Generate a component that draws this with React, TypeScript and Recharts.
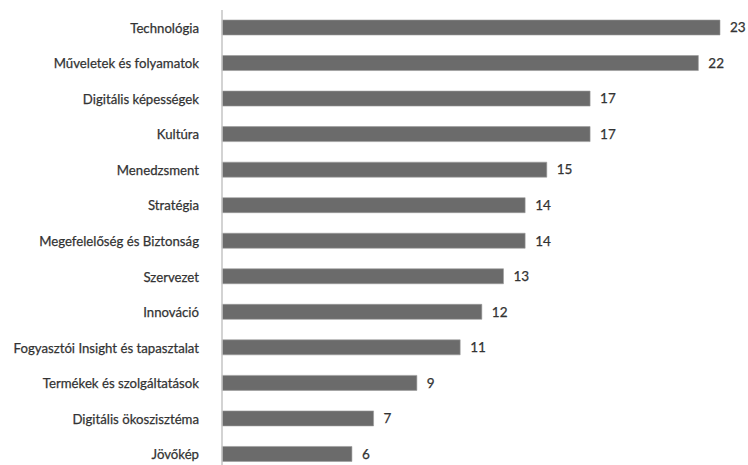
import React from "react";
import { BarChart, Bar, XAxis, YAxis, LabelList } from "recharts";

const categories = [
  "Technológia",
  "Műveletek és folyamatok",
  "Digitális képességek",
  "Kultúra",
  "Menedzsment",
  "Stratégia",
  "Megefelelőség és Biztonság",
  "Szervezet",
  "Innováció",
  "Fogyasztói Insight és tapasztalat",
  "Termékek és szolgáltatások",
  "Digitális ökoszisztéma",
  "Jövőkép",
];
const values = [23, 22, 17, 17, 15, 14, 14, 13, 12, 11, 9, 7, 6];

const data = categories.map((name, i) => ({ name, value: values[i] }));

const FONT = "Lato, 'Open Sans', sans-serif";

const CatTick = (props: any) => {
  const { x, y, payload } = props;
  return (
    <text
      x={x - 15}
      y={y}
      dy={5}
      textAnchor="end"
      fontFamily={FONT}
      fontSize={13.2}
      fill="#333333"
      stroke="#333333"
      strokeWidth={0.25}
    >
      {payload.value}
    </text>
  );
};

export default function App() {
  return (
    <div
      style={{
        position: "fixed",
        left: 8,
        top: 8,
        width: 740,
        height: 457,
        overflow: "hidden",
        background: "#fff",
      }}
    >
      <BarChart
        width={740}
        height={472}
        data={data}
        layout="vertical"
        margin={{ top: 2, right: 28, bottom: 8, left: 0 }}
        barCategoryGap={0}
      >
        <XAxis type="number" domain={[0, 23]} hide />
        <YAxis
          type="category"
          dataKey="name"
          width={214}
          axisLine={{ stroke: "#c4c4c4", strokeWidth: 1.5 }}
          tickLine={false}
          tick={<CatTick />}
          interval={0}
        />
        <Bar
          dataKey="value"
          fill="#6b6b6b"
          stroke="#9a9a9a"
          strokeWidth={0.6}
          barSize={15}
          isAnimationActive={false}
        >
          <LabelList
            dataKey="value"
            position="right"
            offset={10}
            fill="#333333"
            stroke="#333333"
            strokeWidth={0.25}
            fontSize={13.5}
            fontFamily={FONT}
          />
        </Bar>
      </BarChart>
    </div>
  );
}
